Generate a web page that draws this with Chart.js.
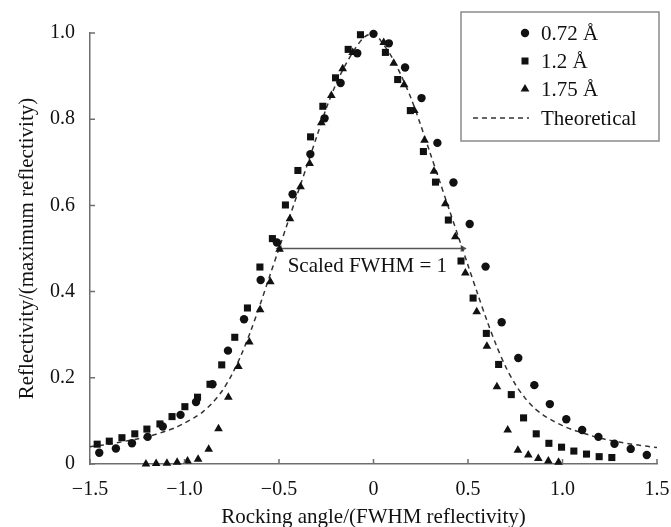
<!DOCTYPE html>
<html>
<head>
<meta charset="utf-8">
<script src="https://cdn.jsdelivr.net/npm/chart.js"></script>
<style>
  html, body { margin: 0; padding: 0; background: #fff; }
</style>
</head>
<body>
<canvas id="chart" width="671" height="527"></canvas>
<script>
// 0.72 Å (circles)
const x072 = [-1.451, -1.363, -1.278, -1.195, -1.115, -1.021, -0.939, -0.852, -0.770, -0.685, -0.597, -0.511,
  -0.428, -0.334, -0.259, -0.174, -0.086, 0.000, 0.081, 0.167, 0.254, 0.338, 0.423, 0.509, 0.593, 0.678,
  0.766, 0.851, 0.933, 1.020, 1.104, 1.190, 1.275, 1.361, 1.446];
const y072 = [0.026, 0.036, 0.048, 0.063, 0.087, 0.114, 0.144, 0.185, 0.263, 0.336, 0.427, 0.514,
  0.626, 0.719, 0.802, 0.884, 0.953, 0.998, 0.976, 0.920, 0.849, 0.745, 0.653, 0.557, 0.458, 0.329,
  0.246, 0.183, 0.139, 0.104, 0.079, 0.063, 0.047, 0.035, 0.021];

// 1.2 Å (squares)
const x12 = [-1.462, -1.398, -1.331, -1.263, -1.199, -1.130, -1.066, -0.998, -0.931, -0.865, -0.803, -0.734,
  -0.667, -0.601, -0.535, -0.466, -0.400, -0.333, -0.268, -0.201, -0.134, -0.069, 0.063, 0.128, 0.195,
  0.264, 0.328, 0.396, 0.463, 0.527, 0.597, 0.662, 0.729, 0.794, 0.861, 0.928, 0.995, 1.060, 1.127,
  1.194, 1.261];
const y12 = [0.046, 0.053, 0.061, 0.070, 0.081, 0.093, 0.110, 0.133, 0.155, 0.185, 0.230, 0.294,
  0.362, 0.457, 0.523, 0.601, 0.681, 0.759, 0.830, 0.896, 0.962, 0.996, 0.955, 0.892, 0.820,
  0.725, 0.654, 0.566, 0.471, 0.385, 0.303, 0.231, 0.161, 0.107, 0.070, 0.048, 0.039, 0.030, 0.023,
  0.017, 0.015];

// 1.75 Å (triangles)
const x175 = [-1.204, -1.150, -1.093, -1.039, -0.984, -0.928, -0.872, -0.820, -0.768, -0.715, -0.657, -0.600,
  -0.546, -0.497, -0.442, -0.386, -0.338, -0.276, -0.223, -0.163, -0.110, 0.054, 0.107, 0.162, 0.216,
  0.270, 0.320, 0.380, 0.433, 0.486, 0.546, 0.600, 0.653, 0.710, 0.764, 0.819, 0.872, 0.925, 0.979];
const y175 = [0.000, 0.001, 0.002, 0.004, 0.007, 0.011, 0.034, 0.082, 0.155, 0.226, 0.283, 0.358,
  0.423, 0.498, 0.569, 0.643, 0.697, 0.792, 0.855, 0.917, 0.955, 0.978, 0.930, 0.880, 0.820,
  0.751, 0.679, 0.604, 0.527, 0.443, 0.353, 0.273, 0.179, 0.079, 0.032, 0.021, 0.013, 0.007, 0.004];

// theoretical curve (dashed)
const xTheory = [-1.50, -1.45, -1.40, -1.35, -1.30, -1.25, -1.20, -1.15, -1.10, -1.05, -1.00, -0.95, -0.90,
  -0.85, -0.80, -0.75, -0.70, -0.65, -0.60, -0.55, -0.50, -0.45, -0.40, -0.35, -0.30, -0.25, -0.20, -0.15,
  -0.10, -0.05, 0.00, 0.05, 0.10, 0.15, 0.20, 0.25, 0.30, 0.35, 0.40, 0.45, 0.50, 0.55, 0.60, 0.65, 0.70,
  0.75, 0.80, 0.85, 0.90, 0.95, 1.00, 1.05, 1.10, 1.15, 1.20, 1.25, 1.30, 1.35, 1.40, 1.45, 1.50];
const yTheory = [0.040, 0.043, 0.046, 0.050, 0.054, 0.058, 0.063, 0.069, 0.076, 0.084, 0.095, 0.107, 0.122,
  0.143, 0.170, 0.207, 0.253, 0.308, 0.370, 0.435, 0.500, 0.565, 0.630, 0.695, 0.760, 0.825, 0.880, 0.925,
  0.962, 0.990, 1.000, 0.975, 0.942, 0.898, 0.847, 0.786, 0.721, 0.656, 0.591, 0.526, 0.461, 0.396, 0.333,
  0.275, 0.225, 0.185, 0.154, 0.130, 0.113, 0.100, 0.089, 0.080, 0.073, 0.066, 0.060, 0.055, 0.051, 0.047,
  0.044, 0.041, 0.038];

// FWHM marker and its note
const fwhmX = [-0.497, 0.472];
const fwhmY = [0.5, 0.5];
const noteText = 'Scaled FWHM = 1';
const noteAt = [-0.454, 0.458];

const seriesNames = ['0.72 Å', '1.2 Å', '1.75 Å', 'Theoretical'];
const xTitle = 'Rocking angle/(FWHM reflectivity)';
const yTitle = 'Reflectivity/(maximum reflectivity)';

const INK = '#111';
const AXIS = '#6f6f6f';
const SERIF = '"Liberation Serif", "Times New Roman", serif';

function pts(xs, ys){ return xs.map((x, i) => ({x, y: ys[i]})); }
function fmt(v){
  if (Math.abs(v) < 1e-9) return '0';
  const s = Math.abs(v).toFixed(1);
  return v < 0 ? '\u2212' + s : s;
}

function marker(ctx, style, x, y){
  ctx.beginPath();
  if (style === 'circle') ctx.arc(x, y, 4.2, 0, Math.PI * 2);
  else if (style === 'rect') ctx.rect(x - 3.5, y - 3.5, 7, 7);
  else { ctx.moveTo(x, y - 5); ctx.lineTo(x + 4.4, y + 2.6); ctx.lineTo(x - 4.4, y + 2.6); ctx.closePath(); }
  ctx.fill();
}

// ticks drawn inward, like the original
const innerTicks = {
  id: 'innerTicks',
  afterDraw(chart){
    const {ctx, chartArea: a, scales: {x, y}} = chart;
    ctx.save();
    ctx.strokeStyle = AXIS; ctx.lineWidth = 1.5;
    ctx.beginPath();
    x.ticks.forEach((t, i) => { const p = x.getPixelForTick(i); ctx.moveTo(p, a.bottom); ctx.lineTo(p, a.bottom - 5); });
    y.ticks.forEach((t, i) => { const p = y.getPixelForTick(i); ctx.moveTo(a.left, p); ctx.lineTo(a.left + 5, p); });
    ctx.stroke();
    ctx.restore();
  }
};

const note = {
  id: 'note',
  afterDatasetsDraw(chart){
    const {ctx, scales: {x, y}} = chart;
    ctx.save();
    ctx.font = '21px ' + SERIF; ctx.fillStyle = INK;
    ctx.textAlign = 'left'; ctx.textBaseline = 'middle';
    ctx.fillText(noteText, x.getPixelForValue(noteAt[0]), y.getPixelForValue(noteAt[1]));
    ctx.restore();
  }
};

const boxLegend = {
  id: 'boxLegend',
  afterDraw(chart){
    const {ctx, chartArea: a} = chart;
    const w = 198, h = 129;
    const left = a.right + 2 - w, top = a.top - 21;
    ctx.save();
    ctx.fillStyle = '#fff';
    ctx.fillRect(left, top, w, h);
    ctx.strokeStyle = '#8a8a8a'; ctx.lineWidth = 1.5;
    ctx.strokeRect(left, top, w, h);
    const rows = [21, 49, 77, 106];
    const styles = ['circle', 'rect', 'triangle'];
    ctx.fillStyle = INK;
    styles.forEach((s, i) => marker(ctx, s, left + 64, top + rows[i]));
    ctx.strokeStyle = '#333'; ctx.lineWidth = 1.5; ctx.setLineDash([5, 4]);
    ctx.beginPath(); ctx.moveTo(left + 12, top + rows[3]); ctx.lineTo(left + 68, top + rows[3]); ctx.stroke();
    ctx.setLineDash([]);
    ctx.font = '21px ' + SERIF; ctx.textAlign = 'left'; ctx.textBaseline = 'middle';
    seriesNames.forEach((n, i) => ctx.fillText(n, left + 80, top + rows[i] + 1));
    ctx.restore();
  }
};

const pointSet = (label, xs, ys, style, r) => ({
  type: 'scatter', label, data: pts(xs, ys), pointStyle: style, pointRadius: r,
  pointBackgroundColor: INK, pointBorderColor: INK, pointBorderWidth: 0, clip: false
});

new Chart(document.getElementById('chart'), {
  type: 'scatter',
  data: {
    datasets: [
      pointSet(seriesNames[0], x072, y072, 'circle', 4.2),
      pointSet(seriesNames[1], x12, y12, 'rect', 5),
      pointSet(seriesNames[2], x175, y175, 'triangle', 5),
      {
        type: 'line', label: seriesNames[3], data: pts(xTheory, yTheory),
        borderColor: '#333', borderWidth: 1.5, borderDash: [5, 4], pointRadius: 0, tension: 0.3, fill: false
      },
      {
        type: 'line', label: 'FWHM', data: pts(fwhmX, fwhmY),
        borderColor: '#555', borderWidth: 1.5, pointStyle: 'triangle', pointRadius: 4,
        pointRotation: [-90, 90], pointBackgroundColor: '#555', pointBorderWidth: 0, fill: false
      }
    ]
  },
  options: {
    responsive: false,
    devicePixelRatio: 1,
    animation: false,
    events: [],
    layout: { padding: { top: 33, right: 14, left: 0, bottom: 0 } },
    plugins: { legend: { display: false }, tooltip: { enabled: false } },
    scales: {
      x: {
        type: 'linear', min: -1.5, max: 1.5,
        afterFit: s => { s.height = 63; s.paddingLeft = 0; s.paddingRight = 0; },
        afterBuildTicks: s => { s.ticks = [-1.5, -1, -0.5, 0, 0.5, 1, 1.5].map(v => ({value: v})); },
        grid: { display: false, drawTicks: false },
        border: { display: true, color: AXIS, width: 1.5 },
        ticks: { color: INK, padding: 14, maxRotation: 0, font: { family: SERIF, size: 20 }, callback: v => fmt(v) },
        title: { display: true, text: xTitle, color: INK, font: { family: SERIF, size: 21 }, padding: { top: 0, bottom: -3 } }
      },
      y: {
        type: 'linear', min: 0, max: 1,
        afterFit: s => { s.width = 90; s.paddingTop = 0; s.paddingBottom = 0; },
        afterBuildTicks: s => { s.ticks = [0, 0.2, 0.4, 0.6, 0.8, 1].map(v => ({value: v})); },
        grid: { display: false, drawTicks: false },
        border: { display: true, color: AXIS, width: 1.5 },
        ticks: { color: INK, padding: 15, font: { family: SERIF, size: 20 }, callback: v => fmt(v) },
        title: { display: true, text: yTitle, color: INK, font: { family: SERIF, size: 21 }, padding: { top: 15 } }
      }
    }
  },
  plugins: [innerTicks, note, boxLegend]
});
</script>
</body>
</html>
